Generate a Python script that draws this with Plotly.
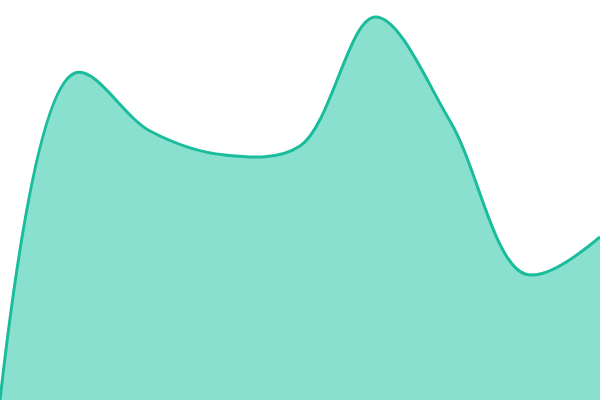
import plotly.graph_objects as go

x_vals = [0, 1, 2, 3, 4, 5, 6, 7, 8]
y_vals = [0, 327, 269, 245, 254, 383, 279, 126, 163]

fig = go.Figure(go.Scatter(
    x=x_vals, y=y_vals, mode="lines",
    line=dict(shape="spline", smoothing=1, color="#1abc9c", width=3),
    fill="tozeroy", fillcolor="#8ae0cf",
    hoverinfo="skip",
))
fig.update_layout(
    width=600, height=400,
    margin=dict(l=0, r=0, t=0, b=0),
    paper_bgcolor="white", plot_bgcolor="white",
    showlegend=False,
    xaxis=dict(visible=False, range=[0, 8], fixedrange=True),
    yaxis=dict(visible=False, range=[0, 400], fixedrange=True),
)
fig.write_html(
    "out.html",
    config={"displayModeBar": False},
    post_script="document.body.style.margin='0';document.body.style.padding='0';document.body.style.overflow='hidden';",
)
